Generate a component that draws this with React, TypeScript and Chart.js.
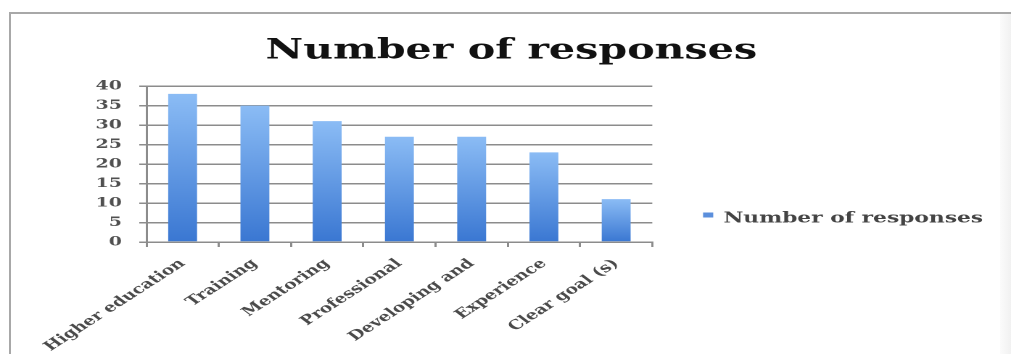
import React, { useEffect, useRef } from "react";
import { Chart, registerables } from "chart.js";

Chart.register(...registerables);

const categories = [
  "Higher education",
  "Training",
  "Mentoring",
  "Professional",
  "Developing and",
  "Experience",
  "Clear goal (s)",
];
const responses = [38, 35, 31, 27, 27, 23, 11];
const seriesLabel = "Number of responses";
const chartTitle = "Number of responses";
const yTicksMin = 0;
const yTicksMax = 40;
const yTickStep = 5;

const STRETCH = 1011 / 697;
const CANVAS_W = 697;
const CANVAS_H = 354;
const FONT = "'DejaVu Serif', 'Liberation Serif', serif";
const LEGEND_COLOR = "#5b8fdc";

const seriesLegend = {
  id: "seriesLegend",
  afterLayout(chart: any) {
    if (chart.titleBlock) {
      chart.titleBlock.left = 0;
      chart.titleBlock.right = 705;
    }
  },
  afterDraw(chart: any) {
    const { ctx, chartArea } = chart;
    const ds = chart.data.datasets[0];
    const x0 = chartArea.right + 35;
    const yc = 218.5;
    ctx.save();
    ctx.fillStyle = LEGEND_COLOR;
    ctx.fillRect(x0, yc - 6, 7, 5);
    ctx.font = `bold 15px ${FONT}`;
    ctx.fillStyle = "#444444";
    ctx.textBaseline = "middle";
    ctx.textAlign = "left";
    ctx.fillText(ds.label, x0 + 14, yc);
    ctx.restore();
  },
};

export default function App() {
  const ref = useRef<HTMLCanvasElement | null>(null);

  useEffect(() => {
    if (!ref.current) return;
    const chart = new Chart(ref.current, {
      type: "bar",
      data: {
        labels: categories,
        datasets: [
          {
            label: seriesLabel,
            data: responses,
            barPercentage: 0.4,
            categoryPercentage: 1.0,
            backgroundColor: (ctx: any) => {
              const ch = ctx.chart;
              const area = ch.chartArea;
              if (!area || ctx.type !== "data") return LEGEND_COLOR;
              const yScale = ch.scales.y;
              const top = yScale.getPixelForValue(ctx.parsed.y);
              const bottom = yScale.getPixelForValue(0);
              const g = ch.ctx.createLinearGradient(0, top, 0, bottom);
              g.addColorStop(0, "#8bbcf5");
              g.addColorStop(1, "#3a77d2");
              return g;
            },
          },
        ],
      },
      options: {
        responsive: false,
        animation: false,
        devicePixelRatio: 2,
        layout: { padding: { left: 0, right: 247.3, top: 0, bottom: 0 } },
        plugins: {
          tooltip: { enabled: false },
          legend: { display: false },
          title: {
            display: true,
            text: chartTitle,
            color: "#111111",
            font: { family: FONT, size: 28.4, weight: "bold" },
            padding: { top: 34, bottom: 18 },
          },
        },
        scales: {
          x: {
            offset: true,
            grid: {
              display: true,
              offset: true,
              drawOnChartArea: false,
              drawTicks: true,
              tickLength: 5,
              color: "#8c8c8c",
              lineWidth: 1.5,
            },
            border: { display: true, color: "#8c8c8c", width: 1.5 },
            ticks: {
              autoSkip: false,
              maxRotation: 43,
              minRotation: 43,
              color: "#4a4a4a",
              padding: 9,
              font: { family: FONT, size: 13, weight: "bold" },
            },
            afterFit: (s: any) => {
              s.height = 112;
            },
          },
          y: {
            min: yTicksMin,
            max: yTicksMax,
            ticks: {
              stepSize: yTickStep,
              color: "#505050",
              padding: 12,
              font: { family: FONT, size: 13, weight: "bold" },
            },
            grid: {
              color: "#8c8c8c",
              lineWidth: 1.5,
              tickLength: 5,
              drawTicks: true,
            },
            border: { display: true, color: "#8c8c8c", width: 1.5 },
            afterFit: (s: any) => {
              s.width = 101;
            },
          },
        },
      },
      plugins: [seriesLegend],
    } as any);
    return () => chart.destroy();
  }, []);

  return (
    <div
      style={{
        position: "fixed",
        left: 0,
        top: 0,
        width: 1011,
        height: 354,
        overflow: "hidden",
        background: "#ffffff",
      }}
    >
      <div
        style={{
          position: "absolute",
          left: 0,
          top: 0,
          width: CANVAS_W,
          height: CANVAS_H,
          transform: `scaleX(${STRETCH})`,
          transformOrigin: "0 0",
        }}
      >
        <canvas ref={ref} width={CANVAS_W} height={CANVAS_H} />
      </div>
      <div
        style={{
          position: "absolute",
          left: 1000,
          top: 14,
          width: 11,
          height: 340,
          background: "linear-gradient(to right, #fbfbfb, #f1f1f1)",
        }}
      />
      <div
        style={{
          position: "absolute",
          left: 9,
          top: 12,
          width: 1002,
          height: 2,
          background: "#a8a8a8",
        }}
      />
      <div
        style={{
          position: "absolute",
          left: 9,
          top: 12,
          width: 2,
          height: 342,
          background: "#a8a8a8",
        }}
      />
    </div>
  );
}
